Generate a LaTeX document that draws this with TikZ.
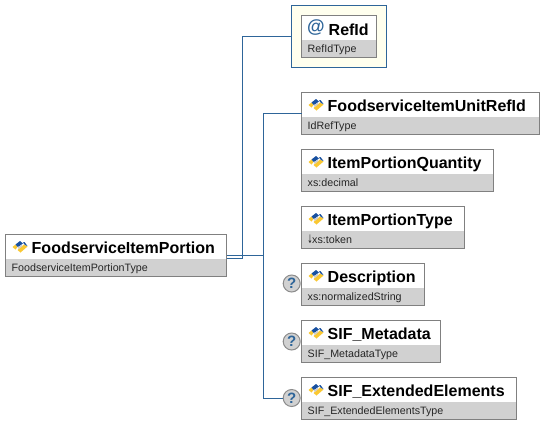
\documentclass[tikz,border=0pt]{standalone}
\usepackage{fontspec}
\setmainfont{Liberation Sans}
\newfontfamily\arrowfont{DejaVu Sans}
\definecolor{linkblue}{RGB}{46,101,153}
\definecolor{boxgray}{RGB}{128,128,128}
\definecolor{typegray}{RGB}{209,209,209}
\definecolor{attrfill}{RGB}{255,255,238}
\definecolor{iconblue}{RGB}{24,80,160}
\definecolor{iconyellow}{RGB}{250,200,50}
\tikzset{
  elembox/.style={draw=boxgray, line width=1pt, fill=white, inner sep=0pt, outer sep=0pt, minimum height=42pt, anchor=north west},
  titletext/.style={anchor=base west, inner sep=0pt, font=\fontsize{16}{18}\bfseries\selectfont},
  typetext/.style={anchor=base west, inner sep=0pt, text=black!85, font=\fontsize{10.7}{12}\selectfont},
  link/.style={draw=linkblue, line width=1pt},
  optmark/.style={circle, draw=black!45, fill=black!18, line width=1pt, inner sep=0pt, outer sep=0pt, minimum size=17pt,
    text=linkblue, font=\fontsize{15}{15}\bfseries\selectfont}
}
% box with title row and grey type row; #2 = top left corner
\newcommand{\elem}[5]{
  \node[elembox, minimum width=#3pt] (#1) at (#2) {};
  \fill[typegray] ([shift={(0.5,24)}]#1.north west) rectangle ([shift={(-0.5,-0.5)}]#1.south east);
  \draw[boxgray, line width=1pt] (#1.north west) rectangle (#1.south east);
  \begin{scope}[shift={(#1.north west)}]
    \fill[iconyellow] (7,12.5) -- (10,10) -- (12,12.5) -- (10,15) -- cycle;
    \fill[iconblue] (10,10) -- (14.5,6.5) -- (17.5,9) -- (12.5,12.5) -- cycle;
    \fill[iconyellow] (22,12) -- (15,18) -- (12,15.5) -- (18.5,10) -- cycle;
    \fill[iconblue] (17.5,8) -- (19,7.5) -- (22,11.5) -- (19.5,10.5) -- cycle;
    \fill[black!20] (12.5,12.5) -- (16,10.5) -- (17,11.5) -- (13,14.5) -- cycle;
  \end{scope}
  \node[titletext] (#1-title) at ([shift={(26,19)}]#1.north west) {#4};
  \node[typetext] (#1-type) at ([shift={(6,36.5)}]#1.north west) {#5};
}
\begin{document}
\begin{tikzpicture}[x=1pt, y=-1pt]
  \useasboundingbox[fill=white] (0,0) rectangle (543,424);

  \node[draw=linkblue, line width=1pt, fill=attrfill, outer sep=0pt, minimum width=95pt, minimum height=62pt, inner sep=0pt, anchor=north west] (attr) at (291.5,5.5) {};

  \elem{root}{5.5,234.5}{221}{FoodserviceItemPortion}{FoodserviceItemPortionType}
  \elem{unit}{301.5,92.5}{238}{FoodserviceItemUnitRefId}{IdRefType}
  \elem{qty}{301.5,149.5}{192}{ItemPortionQuantity}{xs:decimal}
  \elem{ptype}{301.5,206.5}{163}{ItemPortionType}{\makebox[4.5pt]{\raisebox{-0.5pt}{\scalebox{0.6}[1.1]{\arrowfont ↓}}}xs:token}
  \elem{descr}{301.5,263.5}{123}{Description}{xs:normalizedString}
  \elem{meta}{301.5,320.5}{139}{SIF\_Metadata}{SIF\_MetadataType}
  \elem{ext}{301.5,377.5}{215}{SIF\_ExtendedElements}{SIF\_ExtendedElementsType}

  % attribute box, its icon is an at sign
  \node[elembox, minimum width=75pt] (refid) at (301.5,15.5) {};
  \fill[typegray] (302,39.5) rectangle (376,57);
  \draw[boxgray, line width=1pt] (refid.north west) rectangle (refid.south east);
  \node[anchor=base west, inner sep=0pt, text=linkblue, font=\fontsize{18}{18}\bfseries\selectfont] (refid-at) at (307,32) {@};
  \node[titletext] (refid-title) at (328.5,35) {RefId};
  \node[typetext] (refid-type) at (307.5,52) {RefIdType};

  \node[optmark] (q1) at (291.7,283.5) {?};
  \node[optmark] (q2) at (291.7,341.5) {?};
  \node[optmark] (q3) at (291.7,398) {?};

  \draw[link] ([yshift=-3pt]root.east) -| (242.5,36) -- (attr.west |- 0,36);
  \draw[link] (root.east) -- (263.5,255.5);
  \draw[link] (unit.west |- 0,113) -| (263.5,398) -- (q3.west);
\end{tikzpicture}
\end{document}
